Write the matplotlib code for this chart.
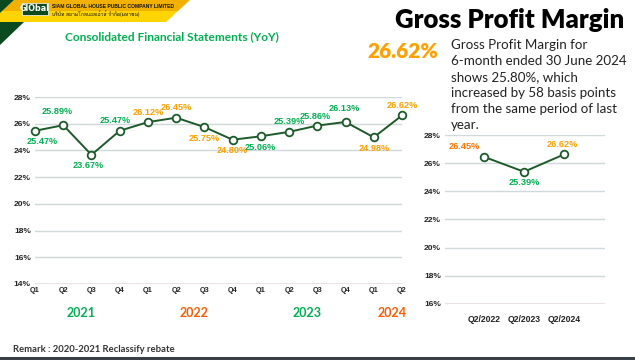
import numpy as np
import matplotlib
matplotlib.use("Agg")
import matplotlib.pyplot as plt
from matplotlib import font_manager
from matplotlib.ft2font import FT2Font
from matplotlib.patches import Polygon, Rectangle
import matplotlib.transforms as mtransforms

# ==========================
# Data
# ==========================
quarters = ["Q1", "Q2", "Q3", "Q4", "Q1", "Q2", "Q3", "Q4", "Q1", "Q2", "Q3", "Q4", "Q1", "Q2"]
gpm = [25.47, 25.89, 23.67, 25.47, 26.12, 26.45, 25.75, 24.80, 25.06, 25.39, 25.86, 26.13, 24.98, 26.62]
label_side = ["below", "above", "below", "above", "above", "above", "below",
              "below", "below", "above", "above", "above", "below", "above"]
label_dx = [7, -6, -3, -5, 0, 0, 0, 0, -1, 0, -2, -1, 0, 0]
label_dy = [0, 4, 0, 0, 0, 0, 0, 0, 0, 0, -1, 3, 0, 0]
years = ["2021", "2022", "2023", "2024"]
year_q_count = [4, 4, 4, 2]

q2_labels = ["Q2/2022", "Q2/2023", "Q2/2024"]
q2_gpm = [26.45, 25.39, 26.62]
q2_side = ["above", "below", "above"]
q2_dx = [-20, 0, -2]
q2_dy = [0, 0, 0]

yticks_left = [14, 16, 18, 20, 22, 24, 26, 28]
yticks_right = [16, 18, 20, 22, 24, 26, 28]

GREEN = "#00b050"
AMBER = "#ffa000"
RED_OR = "#ff5a00"
LINE = "#1d5a2a"
GRID = "#cfd9d9"
BASE = "#a06a80"

year_lbl_col = [GREEN, RED_OR, GREEN, RED_OR]
val_lbl_col = [GREEN, AMBER, GREEN, AMBER]
q2_col = ["#ff7300", GREEN, AMBER]


# ==========================
# Find an installed family with Thai glyphs (if any)
# ==========================
def thai_family():
    for f in font_manager.fontManager.ttflist:
        try:
            if ord("ก") in FT2Font(f.fname).get_charmap():
                return f.name
        except Exception:
            pass
    return None

thai = thai_family()
thai_fams = ([thai] if thai else []) + ["Noto Sans", "DejaVu Sans"]

W, H = 635, 360
fig = plt.figure(figsize=(W / 100, H / 100), dpi=100)
fig.patch.set_facecolor("white")


def px(x0, y0, x1, y1):
    # pixel box (top-left origin) -> figure fraction rect
    return [x0 / W, 1 - y1 / H, (x1 - x0) / W, (y1 - y0) / H]


def line_chart(ax, vals, lims, ticks, sides, dxs, dys, colors):
    x = np.arange(len(vals))
    ax.set_ylim(*lims)
    ax.set_yticks(ticks)
    ax.set_yticklabels([f"{t}%" for t in ticks], fontsize=6, fontweight="bold",
                       family="Liberation Sans", color="#222222")
    for t in ticks:
        ax.axhline(t, color=BASE if t == lims[0] else GRID, lw=1.0, zorder=1)
    ax.plot(x, vals, color=LINE, lw=1.4, marker="o", ms=5.5, mfc="white",
            mec=LINE, mew=1.3, zorder=3, clip_on=False)
    for xi, v, s, dx, ddy, c in zip(x, vals, sides, dxs, dys, colors):
        dy = (10 if s == "above" else -11) + ddy
        ax.annotate(f"{v:.2f}%", (xi, v), xytext=(dx, dy), textcoords="offset pixels",
                    ha="center", va="center", fontsize=6.6, fontweight="bold",
                    family="Liberation Sans", color=c, zorder=4)
    for sp in ax.spines.values():
        sp.set_visible(False)
    ax.tick_params(length=0, pad=3)


# ==========================
# Left chart
# ==========================
ax = fig.add_axes(px(35, 97, 402, 284))
pt_cols = []
for c, n in zip(val_lbl_col, year_q_count):
    pt_cols += [c] * n
line_chart(ax, gpm, (14, 28), yticks_left, label_side, label_dx, label_dy, pt_cols)
ax.set_xlim(0, len(gpm) - 1)
ax.set_xticks(np.arange(len(quarters)))
ax.set_xticklabels(quarters, fontsize=5.2, fontweight="bold", family="Liberation Sans",
                   color="#222222")
ax.tick_params(axis="x", pad=2)

trans = mtransforms.blended_transform_factory(ax.transData, fig.transFigure)
start = 0
for yr, n, c in zip(years, year_q_count, year_lbl_col):
    ax.text(start + (n - 1) / 2 + 0.15, 1 - 313 / H, yr, transform=trans, ha="center",
            va="center", fontsize=9, fontweight="bold", family="Lato", color=c)
    start += n

# ==========================
# Right chart
# ==========================
ax2 = fig.add_axes(px(445, 135, 605, 304))
line_chart(ax2, q2_gpm, (16, 28), yticks_right, q2_side, q2_dx, q2_dy, q2_col)
ax2.set_xlim(-0.975, 3.025)
ax2.set_xticks(np.arange(len(q2_labels)))
ax2.set_xticklabels(q2_labels, fontsize=6.2, fontweight="bold", family="Liberation Sans",
                    color="#222222")
ax2.tick_params(axis="x", pad=8)

# ==========================
# Header decoration
# ==========================
def poly(pts, color):
    fig.patches.append(Polygon([(x / W, 1 - y / H) for x, y in pts], closed=True,
                               transform=fig.transFigure, facecolor=color,
                               edgecolor="none", zorder=0))

poly([(14, 0), (190, 0), (178, 11), (2, 11)], "#f2b000")
poly([(2, 11), (178, 11), (166, 22), (0, 22), (0, 13)], "#ffd400")
poly([(0, 0), (14, 0), (0, 13)], "#0b4a1e")
poly([(0, 22), (24, 22), (0, 45)], "#0b4a1e")
fig.patches.append(Rectangle((22 / W, 1 - 15 / H), 26 / W, 12 / H, transform=fig.transFigure,
                             facecolor="#0b4a1e", edgecolor="white", lw=0.5, zorder=1))
fig.text(35 / W, 1 - 8.5 / H, "GlObal", ha="center", va="center", fontsize=5.8,
         fontweight="bold", color="white", family="DejaVu Sans")
fig.text(52 / W, 1 - 6 / H, "SIAM GLOBAL HOUSE PUBLIC COMPANY LIMITED", ha="left",
         va="center", fontsize=3.6, fontweight="bold", color="#111111",
         family="Liberation Sans")
fig.text(52 / W, 1 - 14 / H, "บริษัท สยามโกลบอลเฮ้าส์ จำกัด(มหาชน)", ha="left",
         va="center", fontsize=3.6, color="#111111", family=thai_fams)

fig.text(172 / W, 1 - 37 / H, "Consolidated Financial Statements (YoY)", ha="center",
         va="center", fontsize=8.6, fontweight="bold", color=GREEN, family="Lato")

fig.text(624 / W, 1 - 20 / H, "Gross Profit Margin", ha="right", va="center",
         fontsize=18.5, fontweight="heavy", color="black", family="Lato")
fig.text(403 / W, 1 - 52 / H, "26.62%", ha="center", va="center", fontsize=15,
         fontweight="heavy", color=AMBER, family="Lato")
fig.text(451 / W, 1 - 39 / H,
         "Gross Profit Margin for\n6-month ended 30 June 2024\nshows 25.80%, which\n"
         "increased by 58 basis points\nfrom the same period of last\nyear.",
         ha="left", va="top", fontsize=9.6, color="#222222", family="Lato",
         linespacing=1.4)

fig.text(13 / W, 1 - 350 / H, "Remark : 2020-2021 Reclassify rebate", ha="left",
         va="center", fontsize=6.8, fontweight="bold", color="#333333", family="Lato")
fig.patches.append(Rectangle((0, 0), 1, 3 / H, transform=fig.transFigure,
                             facecolor="#3b4045", edgecolor="none", zorder=0))

fig.savefig("out.png", dpi=100)
